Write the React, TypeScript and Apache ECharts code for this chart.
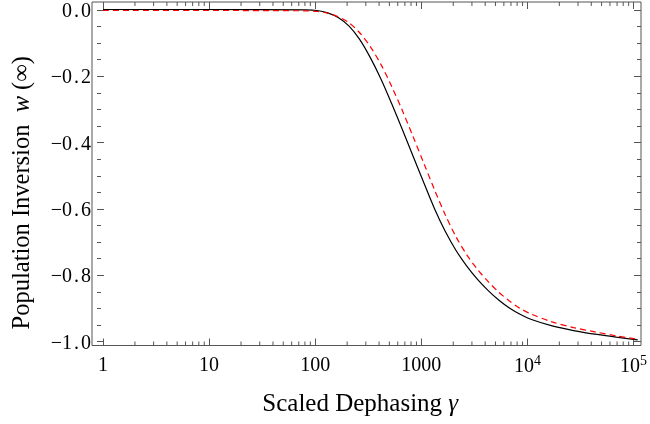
import React, { useEffect, useRef } from "react";
import * as echarts from "echarts";

// Black solid curve (gamma, w)
const blackX = [1, 10, 79, 100, 126, 158, 200, 251, 316, 398, 501, 631, 794, 1000, 1259, 1585, 1995, 2512, 3162, 3981, 5012, 6310, 7943, 10000, 15849, 25119, 39811, 63096, 100000];
const blackY = [0, 0, -0.001, -0.003, -0.010, -0.024, -0.050, -0.090, -0.145, -0.210, -0.284, -0.362, -0.442, -0.522, -0.600, -0.668, -0.725, -0.772, -0.812, -0.846, -0.875, -0.899, -0.918, -0.933, -0.953, -0.967, -0.978, -0.987, -0.995];

// Red dashed curve (gamma, w)
const redX = [1, 10, 79, 100, 126, 158, 200, 251, 316, 398, 501, 631, 794, 1000, 1259, 1585, 1995, 2512, 3162, 3981, 5012, 6310, 7943, 10000, 15849, 25119, 39811, 63096, 100000];
const redY = [-0.003, -0.003, -0.004, -0.006, -0.011, -0.022, -0.040, -0.070, -0.112, -0.166, -0.232, -0.305, -0.383, -0.463, -0.543, -0.618, -0.684, -0.738, -0.782, -0.819, -0.851, -0.878, -0.900, -0.917, -0.941, -0.958, -0.971, -0.983, -0.993];

const xTickValues = [1, 10, 100, 1000, 10000, 100000];
const xTickLabels = ["1", "10", "100", "1000", "{b|10}{s|4}", "{b|10}{s|5}"];
const xMinorMultipliers = [2, 3, 4, 5, 6, 7, 8, 9];
const xDecades = [1, 10, 100, 1000, 10000];

const FONT = "Liberation Serif";
const FRAME = "#555";

export default function App() {
  const ref = useRef<HTMLDivElement>(null);
  useEffect(() => {
    if (!ref.current) return;
    const chart = echarts.init(ref.current, undefined, { renderer: "svg" });
    const blackData = blackX.map((x, i) => [x, blackY[i]]);
    const redData = redX.map((x, i) => [x, redY[i]]);
    const minorTicks: number[][] = [];
    xDecades.forEach((d) => xMinorMultipliers.forEach((m) => minorTicks.push([d * m, 0.5])));

    const xLabel = (v: number) => {
      const k = Math.round(Math.log10(v));
      const idx = xTickValues.findIndex((t) => Math.round(Math.log10(t)) === k);
      return idx >= 0 ? xTickLabels[idx] : "";
    };
    const yLabel = (v: number) => {
      const s = Math.abs(v).toFixed(1).replace(".", "{p|.}");
      if (Math.abs(v) < 1e-9) return s;
      return "\u2212" + s;
    };

    const tickStyle = { color: FRAME, width: 1 };

    chart.setOption({
      animation: false,
      grid: [
        { left: 92, right: 9, top: 2, bottom: 78.5, show: true, borderColor: FRAME, borderWidth: 1, backgroundColor: "transparent" },
        { left: 103, right: 12.3, top: 2, bottom: 78.5 },
        { left: 92, right: 9, top: 9.5, bottom: 82.5 },
      ],
      xAxis: [
        { type: "log", gridIndex: 0, min: 0.7888, max: 107370, show: false },
        {
          type: "log", gridIndex: 1, min: 1, max: 100000, position: "bottom", splitNumber: 5,
          axisLine: { show: false },
          axisTick: { show: true, inside: true, length: 7, lineStyle: tickStyle },
          splitLine: { show: false },
          axisLabel: {
            show: true, margin: 8, formatter: xLabel, color: "#000", fontFamily: FONT, fontSize: 20,
            rich: {
              b: { fontFamily: FONT, fontSize: 20, color: "#000" },
              s: { fontFamily: FONT, fontSize: 14, color: "#000", padding: [0, 0, 9, 0] },
            },
          },
          name: "Scaled Dephasing {i|\u03b3}",
          nameLocation: "middle",
          nameGap: 44,
          nameTextStyle: {
            fontFamily: FONT, fontSize: 25, color: "#000", padding: [0, 16, 0, 0],
            rich: { i: { fontFamily: FONT, fontSize: 25, fontStyle: "italic", color: "#000" } },
          },
        },
        {
          type: "log", gridIndex: 1, min: 1, max: 100000, position: "top", splitNumber: 5,
          axisLine: { show: false },
          axisTick: { show: true, inside: true, length: 7, lineStyle: tickStyle },
          splitLine: { show: false },
          axisLabel: { show: false },
        },
        { type: "value", gridIndex: 2, show: false },
      ],
      yAxis: [
        { type: "value", gridIndex: 0, min: -1.012, max: 0.0226, show: false },
        { type: "value", gridIndex: 1, min: 0, max: 1, show: false },
        {
          type: "value", gridIndex: 2, min: -1, max: 0, interval: 0.2, position: "left",
          axisLine: { show: false },
          axisTick: { show: true, inside: true, length: 7, lineStyle: tickStyle },
          minorTick: { show: true, splitNumber: 4, length: 4, lineStyle: tickStyle },
          splitLine: { show: false },
          minorSplitLine: { show: false },
          axisLabel: {
            show: true, margin: 6, formatter: yLabel, color: "#000", fontFamily: FONT, fontSize: 20,
            rich: { p: { fontFamily: FONT, fontSize: 20, color: "#000", padding: [0, 2, 0, 2] } },
          },
          name: "Population Inversion  {i|w} (\u221e)",
          nameLocation: "middle",
          nameGap: 64,
          nameRotate: 90,
          nameTextStyle: {
            fontFamily: FONT, fontSize: 24.5, color: "#000", padding: [0, 34, 0, 0],
            rich: { i: { fontFamily: FONT, fontSize: 24.5, fontStyle: "italic", color: "#000" } },
          },
        },
        {
          type: "value", gridIndex: 2, min: -1, max: 0, interval: 0.2, position: "right",
          axisLine: { show: false },
          axisTick: { show: true, inside: true, length: 7, lineStyle: tickStyle },
          minorTick: { show: true, splitNumber: 4, length: 4, lineStyle: tickStyle },
          splitLine: { show: false },
          minorSplitLine: { show: false },
          axisLabel: { show: false },
        },
      ],
      series: [
        {
          type: "custom", xAxisIndex: 1, yAxisIndex: 1, silent: true, data: minorTicks,
          renderItem: (params: any, api: any) => {
            const x = api.coord([api.value(0), 0.5])[0];
            const cs = params.coordSys;
            const bottom = cs.y + cs.height;
            return {
              type: "group",
              children: [
                { type: "line", shape: { x1: x, y1: bottom, x2: x, y2: bottom - 4 }, style: { stroke: FRAME, lineWidth: 1 } },
                { type: "line", shape: { x1: x, y1: cs.y, x2: x, y2: cs.y + 4 }, style: { stroke: FRAME, lineWidth: 1 } },
              ],
            };
          },
        },
        {
          type: "line", xAxisIndex: 0, yAxisIndex: 0, data: blackData, showSymbol: false, symbol: "none",
          smooth: 0.3, lineStyle: { color: "#000", width: 1.2 }, silent: true,
        },
        {
          type: "line", xAxisIndex: 0, yAxisIndex: 0, data: redData, showSymbol: false, symbol: "none",
          smooth: 0.3, lineStyle: { color: "#ff0000", width: 1.2, type: [6, 4] }, silent: true,
        },
      ],
    });
    return () => chart.dispose();
  }, []);
  return <div ref={ref} style={{ position: "fixed", left: 0, top: 0, width: 650, height: 424 }} />;
}
